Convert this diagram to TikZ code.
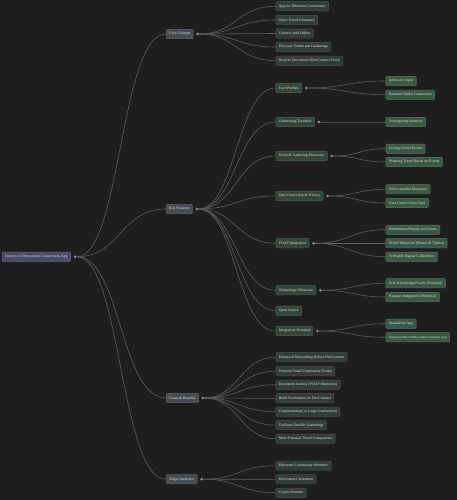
\documentclass[tikz,border=0pt]{standalone}
\usepackage{fontspec}
\setmainfont{Liberation Serif}
\usepackage{tikz}
\usetikzlibrary{positioning}
\definecolor{bgdark}{HTML}{1E1E1E}
\definecolor{linegrey}{HTML}{5C5C5C}
\definecolor{knobgrey}{HTML}{8A8A8A}
\definecolor{txtgrey}{HTML}{E2E2E2}
\definecolor{rootfill}{HTML}{4A4A68}
\definecolor{rootdraw}{HTML}{64648A}
\definecolor{topicfill}{HTML}{474B52}
\definecolor{topicdraw}{HTML}{5C6068}
\definecolor{subfill}{HTML}{33463B}
\definecolor{subdraw}{HTML}{4A6352}
\definecolor{leaffill}{HTML}{3A5844}
\definecolor{leafdraw}{HTML}{527A5E}
\definecolor{notefill}{HTML}{323D37}
\definecolor{notedraw}{HTML}{46534B}
\tikzset{mapbox/.style={rectangle,rounded corners=1pt,minimum height=9.3pt,inner xsep=3pt,inner ysep=0pt,anchor=west,text=txtgrey,line width=0.4pt,font=\fontsize{3.8pt}{4.5pt}\selectfont}}
\tikzset{rootnode/.style={mapbox,fill=rootfill,draw=rootdraw}}
\tikzset{topic/.style={mapbox,fill=topicfill,draw=topicdraw}}
\tikzset{subtopic/.style={mapbox,fill=subfill,draw=subdraw}}
\tikzset{leaf/.style={mapbox,fill=leaffill,draw=leafdraw}}
\tikzset{note/.style={mapbox,fill=notefill,draw=notedraw}}
\tikzset{knob/.style={circle,fill=knobgrey,minimum size=3pt,inner sep=0pt}}
\tikzset{link/.style={draw=linegrey,line width=0.6pt}}

\begin{document}
\begin{tikzpicture}[x=1pt,y=-1pt]
        \fill[bgdark] (0,0) rectangle (457,500);
        \useasboundingbox (0,0) rectangle (457,500);

        \node[rootnode] (journey) at (2,256.7) {Journey to Devconnect Connections App};
        \node[knob,right=2.5pt of journey] (journey_k) {};

        % level 1
        \node[topic] (core) at (166,34) {Core Concept};
        \node[knob,right=2.5pt of core] (core_k) {};
        \node[topic] (keyfeat) at (166,209) {Key Features};
        \node[knob,right=2.5pt of keyfeat] (keyfeat_k) {};
        \node[topic] (goals) at (166,398) {Goals \& Benefits};
        \node[knob,right=2.5pt of goals] (goals_k) {};
        \node[topic] (audience) at (166,479.2) {Target Audience};
        \node[knob,right=2.5pt of audience] (audience_k) {};

        % core concept
        \node[note] (app_eth) at (275.7,6.3) {App for Ethereum Community};
        \node[note] (share_it) at (275.7,20) {Share Travel Itineraries};
        \node[note] (connect_o) at (275.7,33.5) {Connect with Others};
        \node[note] (discover) at (275.7,47) {Discover Events and Gatherings};
        \node[note] (road_dc) at (275.7,60.7) {Road to Devconnect/DevConnect Focus};

        % key features
        \node[subtopic] (profiles) at (275.7,88) {User Profiles};
        \node[knob,right=2.5pt of profiles] (profiles_k) {};
        \node[subtopic] (travelers) at (275.7,122) {Connecting Travelers};
        \node[knob,right=2.5pt of travelers] (travelers_k) {};
        \node[subtopic] (eventdisc) at (275.7,156) {Event \& Gathering Discovery};
        \node[knob,right=2.5pt of eventdisc] (eventdisc_k) {};
        \node[subtopic] (dataown) at (275.7,196) {Data Ownership \& Privacy};
        \node[knob,right=2.5pt of dataown] (dataown_k) {};
        \node[subtopic] (poap) at (275.7,243.3) {POAP Integration};
        \node[knob,right=2.5pt of poap] (poap_k) {};
        \node[subtopic] (techshow) at (275.7,290.3) {Technology Showcase};
        \node[knob,right=2.5pt of techshow] (techshow_k) {};
        \node[subtopic] (opensrc) at (275.7,310.7) {Open Source};
        \node[subtopic] (integr) at (275.7,331) {Integration Potential};
        \node[knob,right=2.5pt of integr] (integr_k) {};

        \node[leaf] (advocacy) at (385.7,81) {Advocacy Input};
        \node[leaf] (wallet) at (385.7,94.7) {Potential Wallet Connection};
        \node[leaf] (overlap) at (385.7,122) {Overlapping Journeys};
        \node[leaf] (listing) at (385.7,148.7) {Listing Global Events};
        \node[leaf] (planning) at (385.7,162) {Planning Travel Based on Events};
        \node[leaf] (selfcust) at (385.7,189.3) {Self-Custodial Itineraries};
        \node[leaf] (usrctrl) at (385.7,203) {User Control Over Data};
        \node[leaf] (distrib) at (385.7,229.7) {Distribution/Display for Events};
        \node[leaf] (memories) at (385.7,243.3) {POAP Memories (Photos \& Videos)};
        \node[leaf] (verif) at (385.7,256.7) {Verifiable Digital Collectibles};
        \node[leaf] (zkp) at (385.7,283.3) {Zero Knowledge Proofs (Potential)};
        \node[leaf] (passport) at (385.7,297) {Passport Integration (Potential)};
        \node[leaf] (standalone) at (385.7,323.7) {Standalone App};
        \node[leaf,font=\fontsize{3.2pt}{4pt}\selectfont] (section) at (385.7,337.3) {Section in Devcon/Devconnect Passport App};

        % goals
        \node[note] (enhanced) at (275.7,357.3) {Enhanced Networking Before DevConnect};
        \node[note] (promote) at (275.7,371.2) {Promote Small Community Events};
        \node[note] (document) at (275.7,384.7) {Document Journey (POAP Memories)};
        \node[note] (excite) at (275.7,398.3) {Build Excitement for DevConnect};
        \node[note] (complem) at (275.7,411.7) {Complementary to Large Conferences};
        \node[note] (facil) at (275.7,425.2) {Facilitate Smaller Gatherings};
        \node[note] (meet) at (275.7,438.7) {Meet Potential Travel Companions};

        % audience
        \node[note] (ethcomm) at (275.7,465.8) {Ethereum Community Members};
        \node[note] (attend) at (275.7,479.3) {Devconnect Attendees};
        \node[note] (nomads) at (275.7,492.7) {Crypto Nomads};

        \draw[link] (journey_k) .. controls +(46,0) and +(-46,0) .. (core.west);
        \draw[link] (journey_k) .. controls +(46,0) and +(-46,0) .. (keyfeat.west);
        \draw[link] (journey_k) .. controls +(46,0) and +(-46,0) .. (goals.west);
        \draw[link] (journey_k) .. controls +(46,0) and +(-46,0) .. (audience.west);

        \draw[link] (core_k) .. controls +(39,0) and +(-39,0) .. (app_eth.west);
        \draw[link] (core_k) .. controls +(39,0) and +(-39,0) .. (share_it.west);
        \draw[link] (core_k) .. controls +(39,0) and +(-39,0) .. (connect_o.west);
        \draw[link] (core_k) .. controls +(39,0) and +(-39,0) .. (discover.west);
        \draw[link] (core_k) .. controls +(39,0) and +(-39,0) .. (road_dc.west);

        \draw[link] (keyfeat_k) .. controls +(39,0) and +(-39,0) .. (profiles.west);
        \draw[link] (keyfeat_k) .. controls +(39,0) and +(-39,0) .. (travelers.west);
        \draw[link] (keyfeat_k) .. controls +(39,0) and +(-39,0) .. (eventdisc.west);
        \draw[link] (keyfeat_k) .. controls +(39,0) and +(-39,0) .. (dataown.west);
        \draw[link] (keyfeat_k) .. controls +(39,0) and +(-39,0) .. (poap.west);
        \draw[link] (keyfeat_k) .. controls +(39,0) and +(-39,0) .. (techshow.west);
        \draw[link] (keyfeat_k) .. controls +(39,0) and +(-39,0) .. (opensrc.west);
        \draw[link] (keyfeat_k) .. controls +(39,0) and +(-39,0) .. (integr.west);

        \draw[link] (profiles_k) .. controls +(38,0) and +(-38,0) .. (advocacy.west);
        \draw[link] (profiles_k) .. controls +(38,0) and +(-38,0) .. (wallet.west);
        \draw[link] (travelers_k) .. controls +(32,0) and +(-32,0) .. (overlap.west);
        \draw[link] (eventdisc_k) .. controls +(27,0) and +(-27,0) .. (listing.west);
        \draw[link] (eventdisc_k) .. controls +(27,0) and +(-27,0) .. (planning.west);
        \draw[link] (dataown_k) .. controls +(29,0) and +(-29,0) .. (selfcust.west);
        \draw[link] (dataown_k) .. controls +(29,0) and +(-29,0) .. (usrctrl.west);
        \draw[link] (poap_k) .. controls +(35,0) and +(-35,0) .. (distrib.west);
        \draw[link] (poap_k) .. controls +(35,0) and +(-35,0) .. (memories.west);
        \draw[link] (poap_k) .. controls +(35,0) and +(-35,0) .. (verif.west);
        \draw[link] (techshow_k) .. controls +(31,0) and +(-31,0) .. (zkp.west);
        \draw[link] (techshow_k) .. controls +(31,0) and +(-31,0) .. (passport.west);
        \draw[link] (integr_k) .. controls +(33,0) and +(-33,0) .. (standalone.west);
        \draw[link] (integr_k) .. controls +(33,0) and +(-33,0) .. (section.west);

        \draw[link] (goals_k) .. controls +(36,0) and +(-36,0) .. (enhanced.west);
        \draw[link] (goals_k) .. controls +(36,0) and +(-36,0) .. (promote.west);
        \draw[link] (goals_k) .. controls +(36,0) and +(-36,0) .. (document.west);
        \draw[link] (goals_k) .. controls +(36,0) and +(-36,0) .. (excite.west);
        \draw[link] (goals_k) .. controls +(36,0) and +(-36,0) .. (complem.west);
        \draw[link] (goals_k) .. controls +(36,0) and +(-36,0) .. (facil.west);
        \draw[link] (goals_k) .. controls +(36,0) and +(-36,0) .. (meet.west);

        \draw[link] (audience_k) .. controls +(37,0) and +(-37,0) .. (ethcomm.west);
        \draw[link] (audience_k) .. controls +(37,0) and +(-37,0) .. (attend.west);
        \draw[link] (audience_k) .. controls +(37,0) and +(-37,0) .. (nomads.west);
    \end{tikzpicture}
\end{document}
